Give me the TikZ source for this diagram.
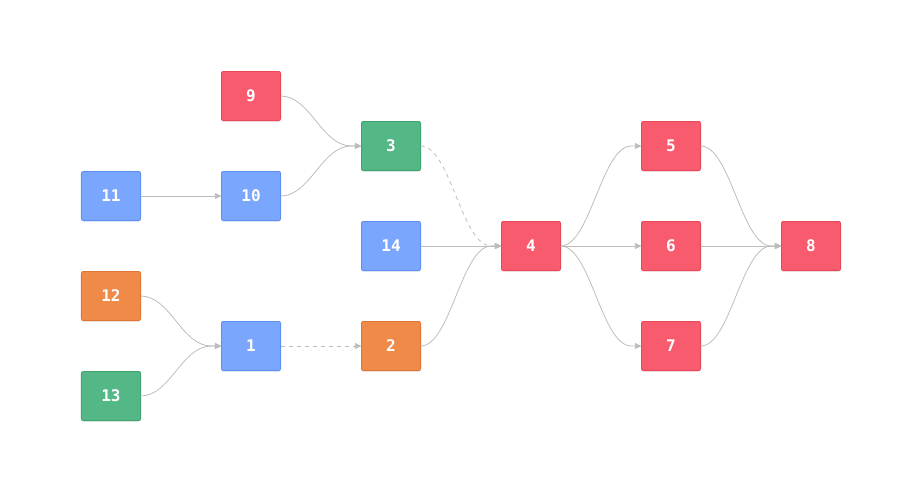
\documentclass[tikz,border=0pt]{standalone}
\usepackage{fontspec}
\newfontfamily\boxfont{DejaVu Sans Mono}
\usepackage{xcolor}
\usepackage{tikz}
\usetikzlibrary{arrows.meta,positioning,shadows,calc}

\definecolor{redfill}{HTML}{F85B6E}
\definecolor{redline}{HTML}{E8475A}
\definecolor{greenfill}{HTML}{54B786}
\definecolor{greenline}{HTML}{3FA36F}
\definecolor{bluefill}{HTML}{7BA6FD}
\definecolor{blueline}{HTML}{5E8FF2}
\definecolor{orangefill}{HTML}{F08A48}
\definecolor{orangeline}{HTML}{E07535}
\definecolor{edgegray}{HTML}{BDBDBD}

\begin{document}
\begin{tikzpicture}[
x=1pt, y=1pt,
box/.style={rounded corners=2pt, minimum width=59.2pt, minimum height=49.2pt, inner sep=0pt, outer sep=0pt, line width=0.8pt,
  text=white, font=\boxfont\bfseries\fontsize{16}{18}\selectfont,
  drop shadow={opacity=0.12, shadow xshift=0pt, shadow yshift=-1.5pt}},
redbox/.style={box, fill=redfill, draw=redline},
greenbox/.style={box, fill=greenfill, draw=greenline},
bluebox/.style={box, fill=bluefill, draw=blueline},
orangebox/.style={box, fill=orangefill, draw=orangeline},
link/.style={-{Triangle[length=6.5pt,width=6pt]}, draw=edgegray, line width=0.8pt},
softlink/.style={link, dash pattern=on 4pt off 4pt}
]
\node[bluebox] (n11) {11};
\node[bluebox, right=80.8pt of n11] (n10) {10};
\node[redbox, above=50.8pt of n10] (n9) {9};
\node[orangebox, below=50.8pt of n11] (n12) {12};
\node[greenbox, below=50.8pt of n12] (n13) {13};
\node[bluebox, below=100.8pt of n10] (n1) {1};
\node[orangebox, right=80.8pt of n1] (n2) {2};
\node[bluebox, above=50.8pt of n2] (n14) {14};
\node[greenbox, above=50.8pt of n14] (n3) {3};
\node[redbox, right=80.8pt of n14] (n4) {4};
\node[redbox, right=80.8pt of n4] (n6) {6};
\node[redbox, above=50.8pt of n6] (n5) {5};
\node[redbox, below=50.8pt of n6] (n7) {7};
\node[redbox, right=80.8pt of n6] (n8) {8};

\useasboundingbox ($(n11.center)+(-111,196)$) rectangle ($(n11.center)+(788,-303)$);

\draw[link] (n11) -- (n10);
\draw[link] (n9.east) .. controls +(30,0) and +(-30,0) .. ($(n3.west)+(-10,0)$) -- (n3.west);
\draw[link] (n10.east) .. controls +(30,0) and +(-30,0) .. ($(n3.west)+(-10,0)$) -- (n3.west);
\draw[link] (n12.east) .. controls +(30,0) and +(-30,0) .. ($(n1.west)+(-10,0)$) -- (n1.west);
\draw[link] (n13.east) .. controls +(30,0) and +(-30,0) .. ($(n1.west)+(-10,0)$) -- (n1.west);
\draw[softlink] (n1) -- (n2);
\draw[softlink] (n3.east) .. controls +(30,0) and +(-30,0) .. ($(n4.west)+(-10,0)$) -- (n4.west);
\draw[link] (n14) -- (n4);
\draw[link] (n2.east) .. controls +(30,0) and +(-30,0) .. ($(n4.west)+(-10,0)$) -- (n4.west);
\draw[link] (n4.east) .. controls +(30,0) and +(-30,0) .. ($(n5.west)+(-10,0)$) -- (n5.west);
\draw[link] (n4) -- (n6);
\draw[link] (n4.east) .. controls +(30,0) and +(-30,0) .. ($(n7.west)+(-10,0)$) -- (n7.west);
\draw[link] (n5.east) .. controls +(30,0) and +(-30,0) .. ($(n8.west)+(-10,0)$) -- (n8.west);
\draw[link] (n6) -- (n8);
\draw[link] (n7.east) .. controls +(30,0) and +(-30,0) .. ($(n8.west)+(-10,0)$) -- (n8.west);
\end{tikzpicture}
\end{document}
